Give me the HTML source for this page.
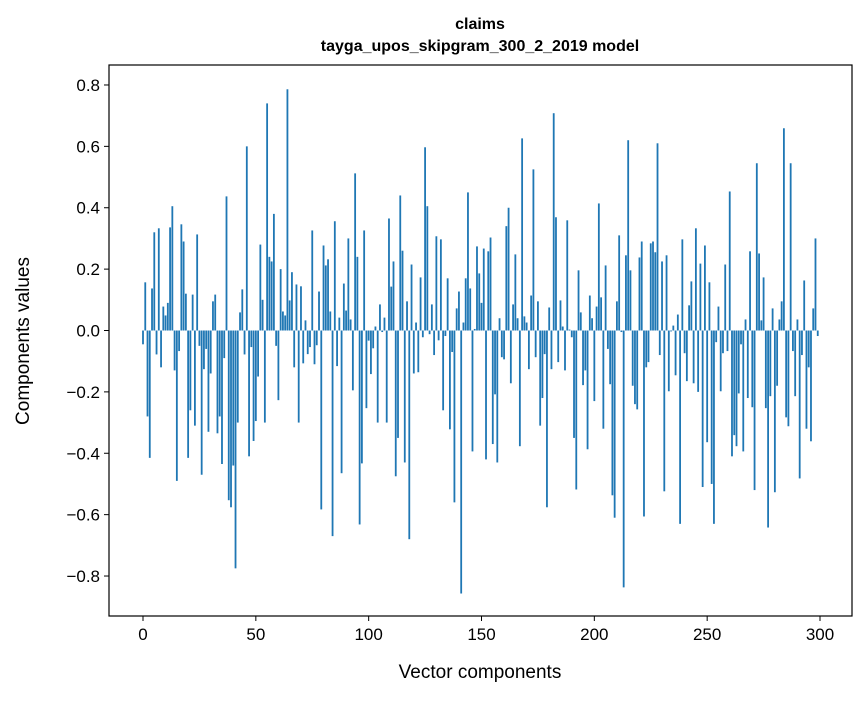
<!DOCTYPE html>
<html><head><meta charset="utf-8"><style>
body{margin:0;background:#fff;font-family:"Liberation Sans",Arial,sans-serif;}
svg text{font-family:"Liberation Sans",Arial,sans-serif;fill:#000;}
</style></head><body>
<svg id="chart" width="867" height="696" xmlns="http://www.w3.org/2000/svg">
<text x="480" y="29" text-anchor="middle" font-size="16" font-weight="bold">claims</text>
<text x="480" y="51" text-anchor="middle" font-size="16" font-weight="bold">tayga_upos_skipgram_300_2_2019 model</text>
<g id="bars"></g>
<g id="axes"></g>
<text x="480" y="678" text-anchor="middle" font-size="19">Vector components</text>
<text x="0" y="0" transform="translate(29,341) rotate(-90)" text-anchor="middle" font-size="19">Components values</text>
</svg>
<script>
const values = [-0.045,0.157,-0.28,-0.415,0.137,0.32,-0.078,0.333,-0.12,0.078,0.049,0.09,0.336,0.405,-0.13,-0.49,-0.067,0.346,0.29,0.12,
-0.415,-0.26,0.117,-0.31,0.313,-0.05,-0.47,-0.126,-0.06,-0.33,-0.14,0.095,0.117,-0.335,-0.28,-0.435,-0.09,0.437,-0.553,-0.576,
-0.44,-0.775,-0.30,0.059,0.134,-0.078,0.6,-0.41,-0.054,-0.36,-0.295,-0.15,0.28,0.10,-0.30,0.74,0.24,0.225,0.38,-0.05,
-0.227,0.2,0.062,0.049,0.786,0.098,0.19,-0.12,0.15,-0.30,0.144,-0.107,0.033,-0.077,-0.054,0.326,-0.11,-0.048,0.127,-0.583,
0.277,0.212,0.232,0.062,-0.67,0.356,-0.116,0.042,-0.465,0.153,0.065,0.30,0.036,-0.195,0.512,0.24,-0.632,-0.433,0.326,-0.253,
-0.033,-0.142,-0.058,0.013,-0.30,0.085,-0.005,0.042,-0.30,0.365,0.143,0.225,-0.475,-0.35,0.44,0.26,-0.43,0.095,-0.68,0.215,
-0.14,0.026,-0.136,0.173,-0.022,0.597,0.405,-0.012,0.085,-0.08,0.307,-0.032,0.297,-0.26,-0.018,0.17,-0.322,-0.07,-0.56,0.072,
0.127,-0.857,0.026,0.17,0.45,0.137,-0.394,0.005,0.274,0.186,0.09,0.267,-0.42,0.258,0.303,-0.37,-0.208,-0.43,0.04,-0.087,
-0.094,0.34,0.40,-0.172,0.085,0.248,0.04,-0.377,0.626,0.046,0.026,-0.126,0.114,0.525,-0.087,0.095,-0.31,-0.22,-0.077,-0.576,
0.075,-0.126,0.708,0.369,-0.103,0.098,0.013,-0.13,0.359,0.003,-0.022,-0.35,-0.518,0.196,0.059,-0.178,-0.13,-0.387,0.114,0.04,
-0.23,0.078,0.414,0.108,-0.32,0.212,-0.06,-0.175,-0.537,-0.61,0.095,0.31,-0.005,-0.837,0.245,0.62,0.196,-0.18,-0.24,-0.257,
0.238,0.29,-0.606,-0.12,-0.103,0.284,0.29,0.255,0.61,-0.08,0.225,-0.524,0.245,-0.198,-0.003,0.016,-0.146,0.052,-0.63,0.297,
-0.074,-0.165,0.082,0.16,-0.172,0.333,-0.2,0.218,-0.51,0.277,-0.364,0.157,-0.5,-0.63,-0.038,0.078,-0.198,-0.074,0.215,-0.067,
0.453,-0.41,-0.341,-0.377,-0.205,-0.045,-0.394,0.036,-0.22,0.258,-0.25,-0.52,0.545,0.251,0.033,0.173,-0.253,-0.642,-0.214,0.072,
-0.527,-0.18,0.036,0.095,0.659,-0.283,-0.312,0.545,-0.067,-0.214,0.036,-0.482,-0.08,0.163,-0.32,-0.12,-0.361,0.072,0.30,-0.018];
const xTicks = [0,50,100,150,200,250,300];
const yTicks = [-0.8,-0.6,-0.4,-0.2,0.0,0.2,0.4,0.6,0.8];
const yTickLabels = ["\u22120.8","\u22120.6","\u22120.4","\u22120.2","0.0","0.2","0.4","0.6","0.8"];

const NS="http://www.w3.org/2000/svg";
const L=109,R=852,T=65,B=616;
function xs(v){return 143+(820-143)*v/300;}
function ys(v){return 330.5-306.9*v;}
const bars=document.getElementById('bars');
values.forEach((v,i)=>{
  const r=document.createElementNS(NS,'rect');
  const w=xs(0.8)-xs(0);
  r.setAttribute('x',xs(i)-w/2);
  r.setAttribute('y',Math.min(ys(v),ys(0)));
  r.setAttribute('width',w);
  r.setAttribute('height',Math.abs(ys(v)-ys(0)));
  r.setAttribute('fill','#1f77b4');
  
  
  bars.appendChild(r);
});
const ax=document.getElementById('axes');
const frame=document.createElementNS(NS,'rect');
frame.setAttribute('x',L);frame.setAttribute('y',T);frame.setAttribute('width',R-L);frame.setAttribute('height',B-T);
frame.setAttribute('fill','none');frame.setAttribute('stroke','#000');frame.setAttribute('stroke-width','1.2');


ax.appendChild(frame);
xTicks.forEach(t=>{
  const l=document.createElementNS(NS,'line');
  l.setAttribute('x1',xs(t));l.setAttribute('x2',xs(t));l.setAttribute('y1',B);l.setAttribute('y2',B+5);
  l.setAttribute('stroke','#000');
  
  
  ax.appendChild(l);
  const tx=document.createElementNS(NS,'text');
  tx.setAttribute('x',xs(t));tx.setAttribute('y',B+24);tx.setAttribute('text-anchor','middle');tx.setAttribute('font-size','17');
  tx.textContent=t;
  
  
  ax.appendChild(tx);
});
yTicks.forEach((t,i)=>{
  const l=document.createElementNS(NS,'line');
  l.setAttribute('x1',L-5);l.setAttribute('x2',L);l.setAttribute('y1',ys(t));l.setAttribute('y2',ys(t));
  l.setAttribute('stroke','#000');
  
  
  ax.appendChild(l);
  const tx=document.createElementNS(NS,'text');
  tx.setAttribute('x',L-9);tx.setAttribute('y',ys(t)+6);tx.setAttribute('text-anchor','end');tx.setAttribute('font-size','17');
  tx.textContent=yTickLabels[i];
  
  
  ax.appendChild(tx);
});
</script>
</body></html>
